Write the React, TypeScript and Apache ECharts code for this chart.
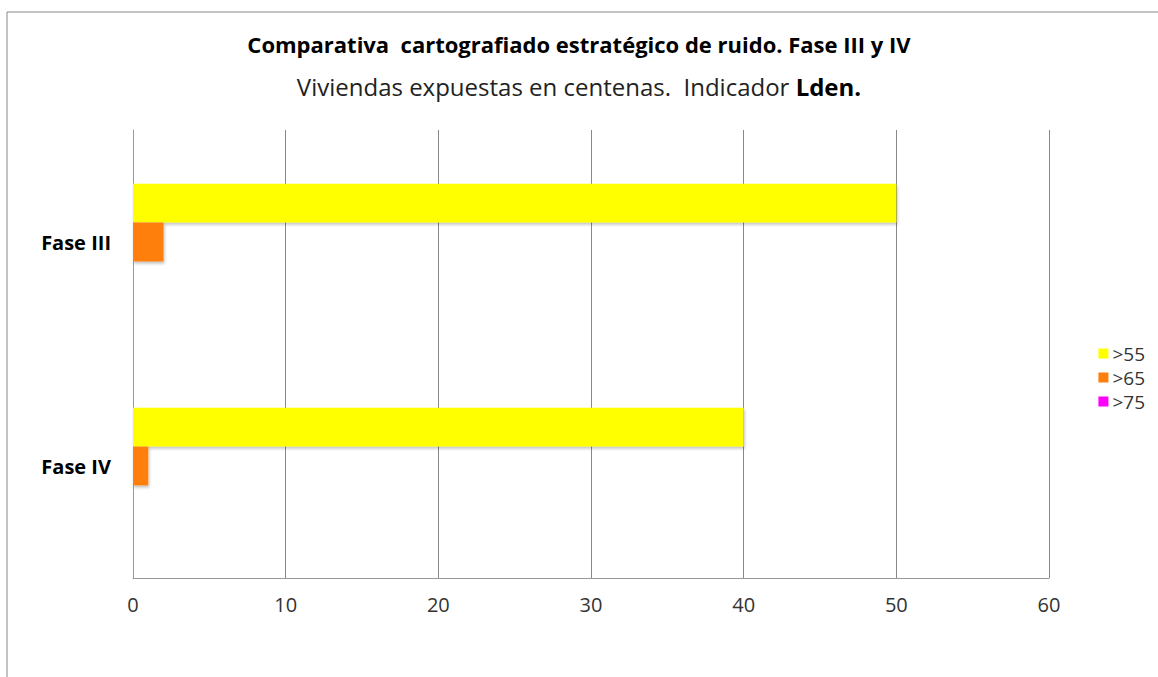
import React, { useEffect, useRef } from "react";
import * as echarts from "echarts";

const categories = ["Fase III", "Fase IV"];
const seriesNames = [">55", ">65", ">75"];
const values55 = [50, 40];
const values65 = [2, 1];
const values75 = [0, 0];
const xTicks = [0, 10, 20, 30, 40, 50, 60];
const colors = ["#FFFF00", "#FF7F0E", "#FF00FF"];

const FONT = "'Open Sans', 'Noto Sans', sans-serif";

export default function App() {
  const ref = useRef<HTMLDivElement>(null);
  useEffect(() => {
    document.body.style.margin = "0";
    const chart = echarts.init(ref.current!, null, { renderer: "svg" });
    const mk = (i: number, data: number[]) => ({
      name: seriesNames[i],
      type: "bar",
      data,
      barGap: "0%",
      barCategoryGap: "48%",
      itemStyle: {
        color: colors[i],
        shadowColor: "rgba(0,0,0,0.25)",
        shadowBlur: 3,
        shadowOffsetX: 1,
        shadowOffsetY: 2,
      },
    });
    chart.setOption({
      animation: false,
      backgroundColor: "#fff",
      textStyle: { fontFamily: FONT },
      title: [
        {
          text: "Comparativa  cartografiado estratégico de ruido. Fase III y IV",
          left: "center",
          top: 28,
          textStyle: { fontFamily: FONT, fontSize: 22, fontWeight: "bold", color: "#000" },
        },
        {
          text: "{a|Viviendas expuestas en centenas.  Indicador }{b|Lden.}",
          left: "center",
          top: 69,
          textStyle: {
            fontFamily: FONT,
            fontSize: 24,
            fontWeight: "normal",
            color: "#222",
            rich: {
              a: { fontFamily: FONT, fontSize: 24, fontWeight: "normal", color: "#222" },
              b: { fontFamily: FONT, fontSize: 24, fontWeight: "bold", color: "#000" },
            },
          },
        },
      ],
      legend: {
        orient: "vertical",
        right: 8,
        top: 339,
        itemWidth: 10,
        itemHeight: 10,
        itemGap: 5,
        icon: "rect",
        textStyle: { fontFamily: FONT, fontSize: 19, color: "#333", padding: [0, 0, 0, -1] },
        data: seriesNames,
      },
      grid: { left: 133, right: 109, top: 130, bottom: 99 },
      xAxis: {
        type: "value",
        min: xTicks[0],
        max: xTicks[xTicks.length - 1],
        interval: 10,
        axisLine: { show: true, lineStyle: { color: "#999" } },
        axisTick: { show: false },
        axisLabel: { fontFamily: FONT, fontSize: 20, color: "#333", margin: 16 },
        splitLine: { show: true, lineStyle: { color: "#888", width: 1 } },
      },
      yAxis: {
        type: "category",
        data: categories,
        inverse: true,
        axisLine: { show: true, lineStyle: { color: "#999" } },
        axisTick: { show: false },
        axisLabel: { fontFamily: FONT, fontSize: 20, fontWeight: "bold", color: "#000", margin: 22 },
      },
      series: [mk(0, values55), mk(1, values65), mk(2, values75)],
      graphic: [
        {
          type: "rect",
          shape: { x: 7, y: 12, width: 1300, height: 800 },
          style: { fill: "none", stroke: "#888", lineWidth: 1 },
          silent: true,
        },
      ],
    });
    return () => chart.dispose();
  }, []);
  return <div ref={ref} style={{ width: 1158, height: 677 }} />;
}
